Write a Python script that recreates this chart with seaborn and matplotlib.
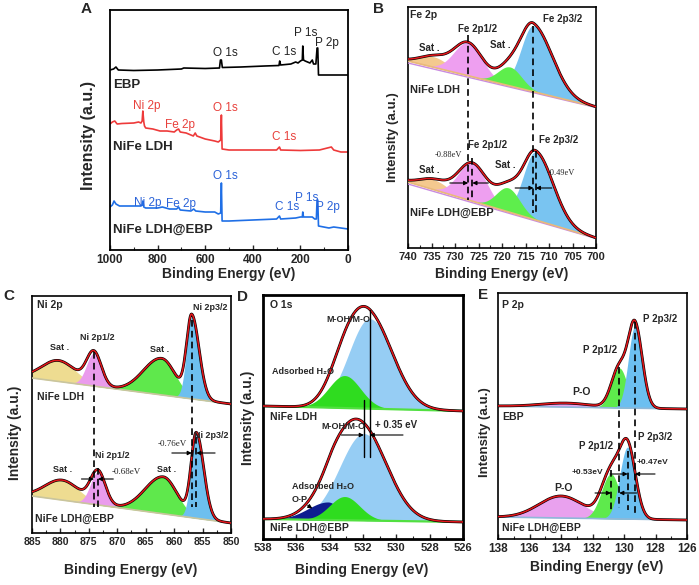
import numpy as np
import pandas as pd
import matplotlib
matplotlib.use("Agg")
import matplotlib.pyplot as plt
from matplotlib.ticker import MultipleLocator
import seaborn as sns

sns.set_theme(style="ticks")
plt.rcParams['font.family'] = ['Liberation Sans', 'DejaVu Sans']
plt.rcParams['xtick.direction'] = 'in'

# ---------------- A: survey spectra (binding energy / intensity a.u.) ----------------
ebp_be = [1000, 985, 975, 965, 900, 800, 700, 690, 600, 540, 536, 532, 528, 450, 350, 290,
          287, 283, 240, 220, 210, 200, 192, 190, 187, 180, 160, 150, 145, 135, 130, 127, 124, 0]
ebp_int = [180, 181, 183, 180, 179.5, 180, 181, 182, 181.5, 182, 190, 190, 182.5, 183, 184, 184.5,
           189, 185, 186, 188, 187, 189, 190, 204, 190, 189, 187, 190, 186, 186, 202, 202, 175, 175]

ldh_be = [1000, 990, 980, 970, 950, 900, 880, 870, 865, 862, 858, 855, 850, 820, 790, 760, 730,
          720, 712, 705, 680, 660, 650, 642, 635, 600, 560, 545, 535, 532, 529, 500, 400, 300,
          288, 283, 200, 120, 70, 60, 30, 0]
ldh_int = [126, 128, 129, 126, 126.5, 127, 128, 127, 129, 139, 128, 124, 122, 121, 119, 119, 118,
           120, 121, 118, 117, 115, 114, 117, 114, 111, 109, 108, 110, 135, 101, 100, 100, 100,
           103, 100, 99.5, 100, 103, 100, 98, 98]

ldhebp_be = [1000, 990, 983, 975, 960, 900, 870, 865, 862, 858, 850, 800, 780, 750, 720, 712, 705,
             660, 648, 640, 600, 560, 545, 535, 532, 529, 500, 400, 300, 288, 283, 220, 200, 192,
             190, 187, 150, 140, 133, 130, 127, 124, 80, 60, 0]
ldhebp_int = [43, 45, 49, 46, 44, 44, 44, 45, 49, 43, 42, 42, 43, 41, 41, 43, 40,
              39, 41, 39, 38, 38, 36, 37, 67, 29, 29, 30, 31, 34, 31, 32, 33, 33,
              38, 33, 33, 31, 31, 50, 50, 24, 22, 23, 21]

# ---------------- B: Fe 2p fit (Sat., Fe 2p1/2, Fe 2p3/2, Sat.) ----------------
fe_ldh_center = [734.5, 727.2, 713.3, 718.3]
fe_ldh_height = [10.5, 33, 66, 19]
fe_ldh_wl = [3.0, 3.0, 2.6, 2.5]
fe_ldh_wr = [3.0, 3.0, 4.0, 2.5]
fe_ldh_bg = [187, 141]
fe_ebp_center = [734.5, 726.3, 712.8, 718.7]
fe_ebp_height = [10, 38, 68, 24]
fe_ebp_wl = [3.0, 3.0, 2.6, 2.5]
fe_ebp_wr = [3.0, 3.0, 3.7, 2.5]
fe_ebp_bg = [66, 10]

# ---------------- C: Ni 2p fit (Sat., Ni 2p1/2, Sat., Ni 2p3/2) ----------------
ni_ldh_center = [880.3, 874.1, 862.2, 856.9]
ni_ldh_height = [21, 33, 36.6, 81.6]
ni_ldh_wl = [3.0, 1.3, 3.2, 0.9]
ni_ldh_wr = [3.0, 1.3, 2.4, 1.3]
ni_ldh_bg = [155, 129]
ni_ebp_center = [879.7, 873.4, 861.9, 856.1]
ni_ebp_height = [20, 33, 37, 84]
ni_ebp_wl = [3.0, 1.3, 3.2, 0.9]
ni_ebp_wr = [3.0, 1.3, 2.4, 1.3]
ni_ebp_bg = [37, 10]

# ---------------- D: O 1s fit (M-OH/M-O, O-P, adsorbed H2O) ----------------
o_ldh_center = [531.6, 534.1, 533.1]
o_ldh_height = [90, 0, 32.5]
o_ldh_wl = [1.25, 1.2, 0.95]
o_ldh_wr = [1.4, 0.7, 0.95]
o_ldh_bg = [133, 128]
o_ebp_center = [531.95, 534.1, 533.1]
o_ebp_height = [87, 18, 23.7]
o_ebp_wl = [1.45, 1.2, 0.9]
o_ebp_wr = [1.45, 0.7, 0.9]
o_ebp_bg = [20, 17]

# ---------------- E: P 2p fit (P-O, P 2p1/2, P 2p3/2) ----------------
p_ebp_center = [133.7, 130.3, 129.3]
p_ebp_height = [4, 40, 82]
p_ebp_wl = [1.6, 0.5, 0.42]
p_ebp_wr = [1.6, 0.5, 0.46]
p_ebp_bg = [133, 130]
p_ldh_center = [134.0, 130.83, 129.77]
p_ldh_height = [22, 45, 72]
p_ldh_wl = [1.4, 0.6, 0.5]
p_ldh_wr = [1.4, 0.55, 0.5]
p_ldh_bg = [22, 19]

RED = '#e3161b'
W, H = 699, 585


def add_ax(l, t, r, b):
    return fig.add_axes([l / W, 1 - b / H, (r - l) / W, (b - t) / H])


def peak(x, c, h, wl, wr):
    w = np.where(x > c, wl, wr)
    return h * np.exp(-(x - c) ** 2 / (2 * w ** 2))


def draw_fit(ax, x, bg_ends, centers, heights, wl, wr, colors, bgcol, bglw=1.2):
    frac = (x - x[0]) / (x[-1] - x[0])
    bg = bg_ends[0] + (bg_ends[1] - bg_ends[0]) * frac
    env = bg.copy()
    for c, h, a, b, col in zip(centers, heights, wl, wr, colors):
        comp = peak(x, c, h, a, b)
        if h > 0:
            ax.fill_between(x, bg, bg + comp, color=col, lw=0, zorder=2)
        env = env + comp
    ax.plot(x, bg, color=bgcol, lw=bglw, zorder=3)
    sns.lineplot(x=x, y=env, ax=ax, color='black', lw=2.0, zorder=4, estimator=None, sort=False)
    sns.lineplot(x=x, y=env, ax=ax, color=RED, lw=1.1, zorder=5, estimator=None, sort=False)


def txt(ax, bot, e, py, s, size=7, weight='bold', ha='center', **kw):
    ax.text(e, bot - py, s, fontsize=size, fontweight=weight, ha=ha, va='center', zorder=7, **kw)


def vdash(ax, bot, e, py1, py2, ls='--', lw=1.2):
    if ls == '--':
        ax.plot([e, e], [bot - py1, bot - py2], color='black', lw=lw, ls=ls, dashes=(4, 2.5), zorder=6)
    else:
        ax.plot([e, e], [bot - py1, bot - py2], color='black', lw=lw, zorder=6)


def arrow(ax, bot, e0, e1, py, lw=0.8):
    ax.annotate('', xy=(e1, bot - py), xytext=(e0, bot - py),
                arrowprops=dict(arrowstyle='-|>', color='black', lw=lw, mutation_scale=6,
                                shrinkA=0, shrinkB=0), zorder=6)


def style(ax, xlim, ylim, major, minor, lsize, spw=1.2):
    ax.set_xlim(*xlim)
    ax.set_ylim(*ylim)
    ax.set_yticks([])
    ax.xaxis.set_major_locator(MultipleLocator(major))
    ax.xaxis.set_minor_locator(MultipleLocator(minor))
    ax.tick_params(axis='x', which='major', length=3.5, width=1, pad=3, labelsize=lsize)
    ax.tick_params(axis='x', which='minor', length=2, width=0.8)
    for lab in ax.get_xticklabels():
        lab.set_fontweight('bold')
    for sp in ax.spines.values():
        sp.set_linewidth(spw)
        sp.set_color('black')
    ax.set_xlabel('')
    ax.set_ylabel('')


def ftext(px, py, s, size, rot=0):
    fig.text(px / W, 1 - py / H, s, fontsize=size, fontweight='bold', rotation=rot,
             ha='center', va='center')


fig = plt.figure(figsize=(W / 100, H / 100), dpi=100)
fig.patch.set_facecolor('white')

# ---------------- panel A ----------------
axA = add_ax(110, 10, 348, 250)
sns.lineplot(x=ebp_be, y=ebp_int, ax=axA, color='black', lw=1.2, estimator=None, sort=False)
sns.lineplot(x=ldh_be, y=ldh_int, ax=axA, color='#ee3a3a', lw=1.2, estimator=None, sort=False)
sns.lineplot(x=ldhebp_be, y=ldhebp_int, ax=axA, color='#1f6fe6', lw=1.2, estimator=None, sort=False)
style(axA, (1000, 0), (0, 240), 200, 100, 8.5, 1.3)
bA = 250
for s, e, py, col in [('O 1s', 515, 53, '#222222'), ('C 1s', 270, 52, '#222222'),
                      ('P 1s', 177, 33, '#222222'), ('P 2p', 90, 43, '#222222'),
                      ('Ni 2p', 845, 106, '#e8403b'), ('Fe 2p', 706, 125, '#e8403b'),
                      ('O 1s', 517, 108, '#e8403b'), ('C 1s', 269, 137, '#e8403b'),
                      ('Ni 2p', 840, 203, '#2a62d8'), ('Fe 2p', 702, 204, '#2a62d8'),
                      ('O 1s', 517, 176, '#2a62d8'), ('C 1s', 256, 207, '#2a62d8'),
                      ('P 1s', 172, 198, '#2a62d8'), ('P 2p', 84, 207, '#2a62d8')]:
    txt(axA, bA, e, py, s, size=8.5, weight='normal', color=col)
for s, py in [('EBP', 85), ('NiFe LDH', 147), ('NiFe LDH@EBP', 230)]:
    txt(axA, bA, 988, py, s, size=9.5, ha='left')

# ---------------- panel B ----------------
axB = add_ax(408, 7, 596, 248)
xB = np.linspace(740, 700, 800)
colB = ['#f4c98f', '#ee9ff0', '#79c4f1', '#5eee4c']
for bg in (fe_ldh_bg, fe_ebp_bg):
    axB.plot([740, 700], [bg[0] - 2, bg[1] - 0.5], color='#c98be0', lw=1, zorder=3)
draw_fit(axB, xB, fe_ldh_bg, fe_ldh_center, fe_ldh_height, fe_ldh_wl, fe_ldh_wr, colB, '#e9b97a')
draw_fit(axB, xB, fe_ebp_bg, fe_ebp_center, fe_ebp_height, fe_ebp_wl, fe_ebp_wr, colB, '#e9b97a')
style(axB, (740, 700), (0, 241), 5, 2.5, 8)
bB = 248
txt(axB, bB, 739.6, 15, 'Fe 2p', size=7.5, ha='left')
txt(axB, bB, 725.3, 29, 'Fe 2p1/2')
txt(axB, bB, 707.2, 19, 'Fe 2p3/2')
txt(axB, bB, 735.5, 48, 'Sat .')
txt(axB, bB, 720.4, 45, 'Sat .')
txt(axB, bB, 739.6, 90, 'NiFe LDH', size=8, ha='left')
txt(axB, bB, 723.0, 145, 'Fe 2p1/2')
txt(axB, bB, 731.5, 155, '-0.88eV', size=6, weight='normal', family='Liberation Serif')
txt(axB, bB, 708.0, 140, 'Fe 2p3/2')
txt(axB, bB, 735.5, 170, 'Sat .')
txt(axB, bB, 719.4, 165, 'Sat .')
txt(axB, bB, 707.3, 173, '-0.49eV', size=6, weight='normal', family='Liberation Serif')
txt(axB, bB, 739.6, 213, 'NiFe LDH@EBP', size=8, ha='left')
vdash(axB, bB, 727.2, 35, 200)
vdash(axB, bB, 726.3, 158, 200)
vdash(axB, bB, 713.3, 26, 213)
vdash(axB, bB, 712.8, 151, 213)
arrow(axB, bB, 731.1, 727.2, 183)
arrow(axB, bB, 722.9, 726.3, 183)
arrow(axB, bB, 717.2, 713.3, 188)
arrow(axB, bB, 709.4, 712.8, 188)

# ---------------- panel C ----------------
axC = add_ax(32, 296, 231, 533)
xC = np.linspace(885, 850, 800)
colC = ['#eedc91', '#ea9bec', '#5fe84c', '#6dbfef']
draw_fit(axC, xC, ni_ldh_bg, ni_ldh_center, ni_ldh_height, ni_ldh_wl, ni_ldh_wr, colC, '#c9c59e')
draw_fit(axC, xC, ni_ebp_bg, ni_ebp_center, ni_ebp_height, ni_ebp_wl, ni_ebp_wr, colC, '#c9c59e')
style(axC, (885, 850), (0, 237), 5, 2.5, 7.5)
bC = 533
txt(axC, bC, 884.1, 305, 'Ni 2p', size=7.5, ha='left')
txt(axC, bC, 873.6, 338, 'Ni 2p1/2', size=6.5)
txt(axC, bC, 853.6, 308, 'Ni 2p3/2', size=6.5)
txt(axC, bC, 880.1, 348, 'Sat .', size=6.5)
txt(axC, bC, 862.5, 350, 'Sat .', size=6.5)
txt(axC, bC, 884.1, 397, 'NiFe LDH', size=7.5, ha='left')
txt(axC, bC, 853.4, 436, 'Ni 2p3/2', size=6.5)
txt(axC, bC, 860.3, 444, '-0.76eV', size=6.5, weight='normal', family='Liberation Serif')
txt(axC, bC, 870.8, 455, 'Ni 2p1/2', size=6.5)
txt(axC, bC, 868.5, 472, '-0.68eV', size=6.5, weight='normal', family='Liberation Serif')
txt(axC, bC, 879.6, 469, 'Sat .', size=6.5)
txt(axC, bC, 861.3, 470, 'Sat .', size=6.5)
txt(axC, bC, 884.4, 519, 'NiFe LDH@EBP', size=7.5, ha='left')
vdash(axC, bC, 874.1, 352, 507)
vdash(axC, bC, 873.4, 468, 507)
vdash(axC, bC, 856.9, 320, 507)
vdash(axC, bC, 856.1, 437, 507)
arrow(axC, bC, 876.3, 874.1, 479)
arrow(axC, bC, 870.7, 873.4, 479)
arrow(axC, bC, 860.4, 856.9, 453)
arrow(axC, bC, 852.8, 856.1, 453)

# ---------------- panel D ----------------
axD = add_ax(263, 295, 463, 539)
xD = np.linspace(538, 526, 800)
colD = ['#96cdf4', '#0e1d8f', '#2fdc1f']
draw_fit(axD, xD, o_ldh_bg, o_ldh_center, o_ldh_height, o_ldh_wl, o_ldh_wr, colD, '#52e040', 1.6)
draw_fit(axD, xD, o_ebp_bg, o_ebp_center, o_ebp_height, o_ebp_wl, o_ebp_wr, colD, '#52e040', 1.6)
style(axD, (538, 526), (0, 244), 2, 1, 8, 2.0)
bD = 539
txt(axD, bD, 537.6, 305, 'O 1s', size=7.5, ha='left')
txt(axD, bD, 532.9, 320, 'M-OH/M-O', size=6.5)
txt(axD, bD, 535.6, 372, 'Adsorbed H\u2082O', size=6.5)
txt(axD, bD, 537.6, 417, 'NiFe LDH', size=7.5, ha='left')
txt(axD, bD, 533.2, 427, 'M-OH/M-O', size=6.5)
txt(axD, bD, 530.0, 425, '+ 0.35 eV', size=7)
txt(axD, bD, 534.4, 487, 'Adsorbed H\u2082O', size=6.5)
txt(axD, bD, 535.8, 500, 'O-P', size=6.5)
txt(axD, bD, 537.6, 528, 'NiFe LDH@EBP', size=7.5, ha='left')
vdash(axD, bD, 531.6, 310, 457, ls='-', lw=1.0)
vdash(axD, bD, 531.95, 400, 457, ls='-', lw=1.0)
arrow(axD, bD, 533.3, 531.95, 435)
arrow(axD, bD, 529.6, 531.6, 435)
# small arrow from the O-P label toward the O-P component
axD.annotate('', xy=(534.9, bD - 510), xytext=(535.45, bD - 504),
             arrowprops=dict(arrowstyle='-|>', color='black', lw=0.8, mutation_scale=6), zorder=6)

# ---------------- panel E ----------------
axE = add_ax(498, 293, 687, 539)
xE = np.linspace(138, 126, 800)
colE = ['#e9a1ee', '#5eea4c', '#6cbff0']
draw_fit(axE, xE, p_ebp_bg, p_ebp_center, p_ebp_height, p_ebp_wl, p_ebp_wr, colE, '#8fb8d8')
draw_fit(axE, xE, p_ldh_bg, p_ldh_center, p_ldh_height, p_ldh_wl, p_ldh_wr, colE, '#8fb8d8')
style(axE, (138, 126), (0, 246), 2, 1, 8.5)
bE = 539
txt(axE, bE, 137.75, 305, 'P 2p', size=7.5, ha='left')
txt(axE, bE, 127.7, 319, 'P 2p3/2')
txt(axE, bE, 131.5, 350, 'P 2p1/2')
txt(axE, bE, 132.7, 392, 'P-O', size=7.5)
txt(axE, bE, 137.75, 417, 'EBP', size=7.5, ha='left')
txt(axE, bE, 128.0, 437, 'P 2p3/2')
txt(axE, bE, 131.8, 446, 'P 2p1/2')
txt(axE, bE, 128.2, 463, '+0.47eV', size=6)
txt(axE, bE, 132.3, 473, '+0.53eV', size=6)
txt(axE, bE, 133.85, 488, 'P-O', size=7.5)
txt(axE, bE, 137.75, 528, 'NiFe LDH@EBP', size=7.5, ha='left')
vdash(axE, bE, 130.3, 367, 508)
vdash(axE, bE, 129.3, 322, 513)
vdash(axE, bE, 130.83, 470, 510)
vdash(axE, bE, 129.77, 451, 510)
arrow(axE, bE, 130.89, 129.77, 474)
arrow(axE, bE, 128.03, 129.3, 474)
arrow(axE, bE, 131.84, 130.83, 493)
arrow(axE, bE, 129.2, 130.3, 493)

# ---------------- axis titles and panel letters ----------------
ftext(88, 135, 'Intensity (a.u.)', 11.5, 90)
ftext(393, 137, 'Intensity (a.u.)', 9.5, 90)
ftext(15, 433, 'Intensity (a.u.)', 10, 90)
ftext(248, 418, 'Intensity (a.u.)', 10, 90)
ftext(485, 432, 'Intensity (a.u.)', 9.5, 90)
ftext(229, 274, 'Binding Energy (eV)', 10)
ftext(502, 274, 'Binding Energy (eV)', 10)
ftext(131, 570, 'Binding Energy (eV)', 10)
ftext(362, 570, 'Binding Energy (eV)', 10)
ftext(597, 567, 'Binding Energy (eV)', 10)
for s, px, py in [('A', 86, 9), ('B', 378, 9), ('C', 9, 296), ('D', 243, 297), ('E', 483, 295)]:
    ftext(px, py, s, 11)

fig.savefig('out.png', dpi=100, facecolor='white')
